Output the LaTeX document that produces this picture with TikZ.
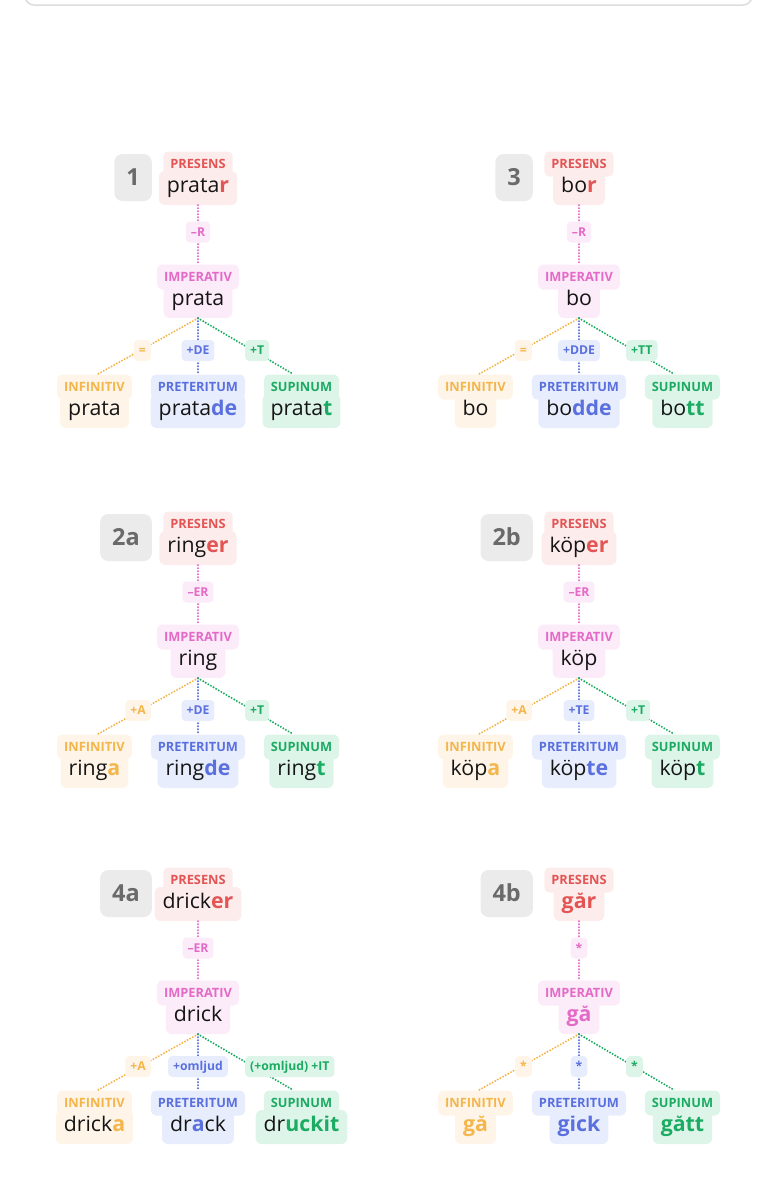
\documentclass[tikz,border=0pt]{standalone}
\usepackage{fontspec}
\setmainfont{Open Sans}
\definecolor{redT}{HTML}{E35454}\definecolor{redF}{HTML}{FDECEC}
\definecolor{pinkT}{HTML}{E46AC8}\definecolor{pinkF}{HTML}{FCEBF8}
\definecolor{oraT}{HTML}{F4B54A}\definecolor{oraF}{HTML}{FEF5E8}
\definecolor{bluT}{HTML}{5A70DE}\definecolor{bluF}{HTML}{E8EDFD}
\definecolor{grnT}{HTML}{1CAB62}\definecolor{grnF}{HTML}{DDF5E9}
\definecolor{numF}{HTML}{EBEBEB}\definecolor{numT}{HTML}{6A6A6A}
\definecolor{ink}{HTML}{151515}
\definecolor{frameC}{HTML}{DCDCDC}
\tikzset{
 lbox/.style={fill=#1F, text=#1T, rounded corners=5pt, inner xsep=7pt, inner ysep=0pt, minimum height=25pt, text height=9pt, text depth=0pt, font=\fontsize{12.8}{12.8}\selectfont\bfseries},
 vbox/.style={fill=#1F, text=ink, rounded corners=6pt, inner xsep=8pt, inner ysep=0pt, minimum height=34pt, text height=13pt, text depth=5pt, font=\fontsize{21.3}{21.3}\selectfont},
 ebox/.style={fill=#1F, text=#1T, rounded corners=4pt, inner xsep=5pt, inner ysep=0pt, minimum height=21pt, text height=8.5pt, text depth=0pt, font=\fontsize{12.2}{12.2}\selectfont\bfseries},
 numbox/.style={fill=numF, text=numT, rounded corners=8pt, inner xsep=12pt, inner ysep=0pt, minimum height=47pt, text height=16.5pt, text depth=0pt, font=\fontsize{23.5}{23.5}\selectfont\bfseries, anchor=east},
 conn/.style={draw=#1T, line width=2.2pt, dash pattern=on 0pt off 3pt, line cap=round},
}
\newcommand\sfx[2]{\textcolor{#1T}{\bfseries #2}}
\newcommand\formnode[6]{%
  \node[vbox=#4] (#1v) at (#2,#3+24) {#6};
  \node[lbox=#4] (#1l) at (#2,#3) {#5};}
\newcommand\panel[4]{%
  \node[numbox] (#1n) at (#2-46,#3+13.5) {#4};
  \formnode{#1p}{#2}{#3}{red}{PRESENS}{\vPres}
  \formnode{#1i}{#2}{#3+113}{pink}{IMPERATIV}{\vImp}
  \formnode{#1f}{#2-103.5}{#3+223}{ora}{INFINITIV}{\vInf}
  \formnode{#1t}{#2}{#3+223}{blu}{PRETERITUM}{\vPret}
  \formnode{#1s}{#2+103.5}{#3+223}{grn}{SUPINUM}{\vSup}
  \draw[conn=pink] (#1pv.south) -- (#1il.north);
  \draw[conn=ora] (#1iv.south) -- ([xshift=3pt]#1fl.north);
  \draw[conn=blu] (#1iv.south) -- (#1tl.north);
  \draw[conn=grn] (#1iv.south) -- ([xshift=-8pt]#1sl.north);
  \node[ebox=pink] (#1ei) at (#2,#3+68) {\eImp};
  \node[ebox=ora, anchor=east] (#1ef) at (#2-47,#3+186.5) {\eInf};
  \node[ebox=blu] (#1et) at (#2,#3+186.5) {\ePret};
  \node[ebox=grn, anchor=west] (#1es) at (#2+47,#3+186.5) {\eSup};
}
\begin{document}
\begin{tikzpicture}[x=1pt,y=-1pt]
\useasboundingbox (0,0) rectangle (766,1200);
\begin{scope}
\clip (0,0) rectangle (766,1200);
\draw[frameC, line width=1.5pt, rounded corners=9pt] (25,-40) rectangle (752,5);
\end{scope}
% panel 1
\def\vPres{prata\sfx{red}{r}}\def\vImp{prata}\def\vInf{prata}\def\vPret{prata\sfx{blu}{de}}\def\vSup{prata\sfx{grn}{t}}
\def\eImp{–R}\def\eInf{=}\def\ePret{+DE}\def\eSup{+T}
\panel{a}{198}{164}{1}
% panel 3
\def\vPres{bo\sfx{red}{r}}\def\vImp{bo}\def\vInf{bo}\def\vPret{bo\sfx{blu}{dde}}\def\vSup{bo\sfx{grn}{tt}}
\def\eImp{–R}\def\eInf{=}\def\ePret{+DDE}\def\eSup{+TT}
\panel{b}{579}{164}{3}
% panel 2a
\def\vPres{ring\sfx{red}{er}}\def\vImp{ring}\def\vInf{ring\sfx{ora}{a}}\def\vPret{ring\sfx{blu}{de}}\def\vSup{ring\sfx{grn}{t}}
\def\eImp{–ER}\def\eInf{+A}\def\ePret{+DE}\def\eSup{+T}
\panel{c}{198}{524}{2a}
% panel 2b
\def\vPres{köp\sfx{red}{er}}\def\vImp{köp}\def\vInf{köp\sfx{ora}{a}}\def\vPret{köp\sfx{blu}{te}}\def\vSup{köp\sfx{grn}{t}}
\def\eImp{–ER}\def\eInf{+A}\def\ePret{+TE}\def\eSup{+T}
\panel{d}{579}{524}{2b}
% panel 4a
\def\vPres{drick\sfx{red}{er}}\def\vImp{drick}\def\vInf{drick\sfx{ora}{a}}\def\vPret{dr\sfx{blu}{a}ck}\def\vSup{dr\sfx{grn}{uckit}}
\def\eImp{–ER}\def\eInf{+A}\def\ePret{+omljud}\def\eSup{(+omljud) +IT}
\panel{e}{198}{880}{4a}
% panel 4b
\def\vPres{\sfx{red}{går}}\def\vImp{\sfx{pink}{gå}}\def\vInf{\sfx{ora}{gå}}\def\vPret{\sfx{blu}{gick}}\def\vSup{\sfx{grn}{gått}}
\def\eImp{*}\def\eInf{*}\def\ePret{*}\def\eSup{*}
\panel{f}{579}{880}{4b}
\end{tikzpicture}
\end{document}
